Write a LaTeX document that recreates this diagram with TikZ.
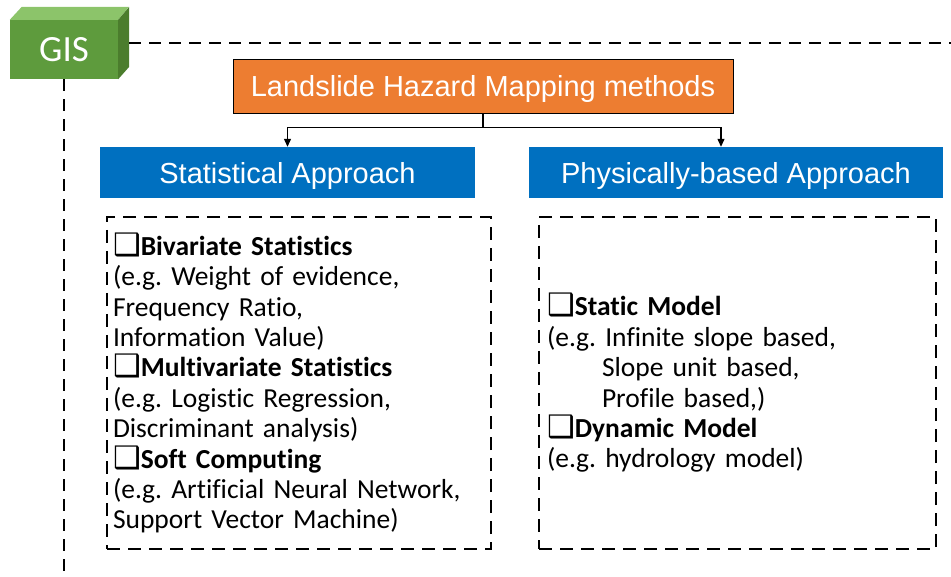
\documentclass[tikz,border=0pt]{standalone}
\usepackage{fontspec}
\usepackage{tikz}
\usetikzlibrary{arrows.meta}
\setmainfont{Carlito}[Ligatures=NoCommon]
\newfontfamily\arialfont{Liberation Sans}
\newfontfamily\symfont{DejaVu Sans}
\definecolor{gisfront}{HTML}{5E9B3D}
\definecolor{gistop}{HTML}{8CC46A}
\definecolor{gisside}{HTML}{4B7D2D}
\definecolor{hazorange}{HTML}{ED7D31}
\definecolor{appblue}{HTML}{0070C0}
\newcommand{\chk}{{\symfont\fontsize{31}{30}\selectfont ❑}}
\frenchspacing

\begin{document}
\begin{tikzpicture}[x=1pt,y=-1pt,
    gisline/.style={line width=1.8pt,dash pattern=on 12pt off 8pt},
    titlebox/.style={fill=hazorange,draw=black,line width=1pt,text=white,minimum width=500pt,minimum height=54pt,
      text depth=2pt,font=\arialfont\fontsize{29}{34}\selectfont},
    approach/.style={fill=appblue,text=white,minimum height=51pt,text depth=0pt,
      font=\arialfont\fontsize{29}{34}\selectfont},
    methodbox/.style={draw=black,line width=1.5pt,dash pattern=on 13pt off 8pt,minimum height=332pt,
      inner xsep=0pt,align=left,font=\fontsize{27.5}{30.4}\selectfont},
    link/.style={line width=1.2pt,-{Triangle[length=8pt,width=7pt]}}]
  \useasboundingbox (0,0) rectangle (951,577);

  % GIS block
  \node[fill=gisfront,text=white,minimum width=108pt,minimum height=59pt,inner sep=0pt,
    font=\fontsize{37}{40}\selectfont] (gis) at (64,49.5) {GIS};
  \fill[gistop] (gis.north west) -- ++(12,-13) -- ++(107,0) -- (gis.north east) -- cycle;
  \fill[gisside] (gis.north east) -- ++(11,-13) -- ++(0,60) -- (gis.south east) -- cycle;
  \coordinate (gisend) at (951,43);
  \coordinate (gisfoot) at (64,577);
  \draw[gisline] (129,43) -- (gisend);
  \draw[gisline] (gis.south) -- (gisfoot);

  % methods
  \node[titlebox] (haz) at (483,87) {Landslide Hazard Mapping methods};
  \node[approach,minimum width=375pt] (stat) at (287.5,172.5) {Statistical Approach};
  \node[approach,minimum width=414pt] (phys) at (736,172.5) {Physically-based Approach};
  \coordinate (split) at ([shift={(0,13)}]haz.south);
  \draw[line width=1.2pt] (haz.south) -- (split);
  \draw[link] (split) -| (stat.north);
  \draw[link] (split) -| ([shift={(-15,0)}]phys.north);

  \node[methodbox,minimum width=384pt,text width=372pt] (statbox) at (299,383) {%
    \chk\textbf{Bivariate Statistics}\\
    (e.g. Weight of evidence,\\
    Frequency Ratio,\\
    Information Value)\\
    \chk\textbf{Multivariate Statistics}\\
    (e.g. Logistic Regression,\\
    Discriminant analysis)\\
    \chk\textbf{Soft Computing}\\
    (e.g. Artificial Neural Network,\\
    Support Vector Machine)};
  \node[methodbox,minimum width=397pt,text width=381pt] (physbox) at (737.5,383) {%
    \chk\textbf{Static Model}\\
    (e.g. Infinite slope based,\\
    \hspace*{55pt}Slope unit based,\\
    \hspace*{55pt}Profile based,)\\
    \chk\textbf{Dynamic Model}\\
    (e.g. hydrology model)};
\end{tikzpicture}
\end{document}
